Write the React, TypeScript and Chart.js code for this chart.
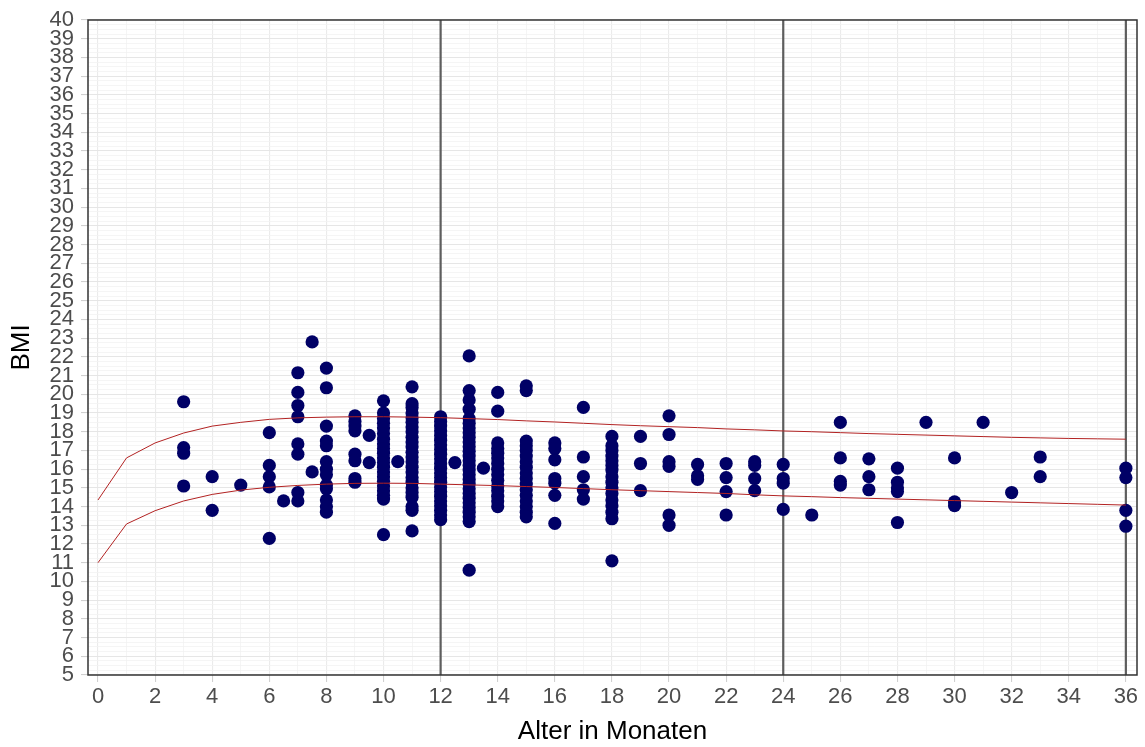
import React, { useEffect, useRef } from "react";
import { Chart, registerables } from "chart.js";

Chart.register(...registerables);

// Age (months) of each observed column of points
const ages: number[] = [3, 4, 5, 6, 6.5, 7, 7.5, 8, 9, 9.5, 10, 10.5, 11, 12, 12.5, 13, 13.5, 14, 15, 16, 17, 18, 19, 20, 21, 22, 23, 24, 25, 26, 27, 28, 29, 30, 31, 32, 33, 36];

// BMI values observed at each age (same order as ages)
const bmiAt3 = [19.6, 17.15, 16.85, 15.1];
const bmiAt4 = [15.6, 13.8];
const bmiAt5 = [15.15];
const bmiAt6 = [17.95, 16.2, 15.6, 15.05, 12.3];
const bmiAt6_5 = [14.3];
const bmiAt7 = [21.15, 20.1, 19.4, 18.8, 17.35, 16.8, 14.75, 14.3];
const bmiAt7_5 = [22.8, 15.85];
const bmiAt8 = [21.4, 20.35, 18.3, 17.5, 17.25, 16.4, 16.0, 15.7, 15.15, 14.95, 14.35, 14.0, 13.7];
const bmiAt9 = [18.85, 18.55, 18.3, 18.05, 16.8, 16.45, 15.5, 15.3];
const bmiAt9_5 = [17.8, 16.35];
const bmiAt10 = [19.65, 19.0, 18.7, 18.45, 18.2, 17.9, 17.6, 17.35, 17.1, 16.85, 16.6, 16.35, 16.1, 15.85, 15.6, 15.35, 15.1, 14.85, 14.6, 14.4, 12.5];
const bmiAt10_5 = [16.4];
const bmiAt11 = [20.4, 19.5, 19.3, 19.0, 18.75, 18.5, 18.25, 18.0, 17.7, 17.45, 17.2, 16.9, 16.65, 16.4, 16.1, 15.85, 15.55, 15.3, 15.0, 14.75, 14.5, 14.0, 13.8, 12.7];
const bmiAt12 = [18.8, 18.55, 18.3, 18.05, 17.8, 17.55, 17.3, 17.05, 16.8, 16.55, 16.3, 16.05, 15.8, 15.55, 15.3, 15.05, 14.8, 14.55, 14.3, 14.05, 13.8, 13.55, 13.3];
const bmiAt12_5 = [16.35];
const bmiAt13 = [22.05, 20.2, 19.7, 19.2, 18.7, 18.45, 18.2, 17.95, 17.7, 17.45, 17.2, 16.95, 16.7, 16.45, 16.2, 15.95, 15.7, 15.45, 15.2, 14.95, 14.7, 14.45, 14.2, 13.95, 13.7, 13.45, 13.2, 10.6];
const bmiAt13_5 = [16.05];
const bmiAt14 = [20.1, 19.1, 17.4, 17.1, 16.85, 16.6, 16.3, 16.0, 15.7, 15.4, 15.1, 14.85, 14.55, 14.3, 14.0];
const bmiAt15 = [20.45, 20.2, 17.5, 17.25, 17.0, 16.7, 16.4, 16.1, 15.8, 15.5, 15.2, 14.9, 14.6, 14.3, 14.0, 13.7, 13.45];
const bmiAt16 = [17.4, 17.1, 16.5, 15.5, 15.25, 14.6, 13.1];
const bmiAt17 = [19.3, 16.65, 15.6, 14.9, 14.4];
const bmiAt18 = [17.75, 17.25, 17.0, 16.7, 16.45, 16.2, 15.95, 15.6, 15.3, 15.0, 14.7, 14.35, 14.05, 13.7, 13.35, 11.1];
const bmiAt19 = [17.75, 16.3, 14.85];
const bmiAt20 = [18.85, 17.85, 16.4, 16.15, 13.55, 13.0];
const bmiAt21 = [16.25, 15.65, 15.45];
const bmiAt22 = [16.3, 15.55, 14.8, 13.55];
const bmiAt23 = [16.4, 16.2, 15.5, 14.85];
const bmiAt24 = [16.25, 15.5, 15.25, 13.85];
const bmiAt25 = [13.55];
const bmiAt26 = [18.5, 16.6, 15.35, 15.15];
const bmiAt27 = [16.55, 15.6, 14.9];
const bmiAt28 = [16.05, 15.3, 15.0, 14.8, 13.15];
const bmiAt29 = [18.5];
const bmiAt30 = [16.6, 14.25, 14.05];
const bmiAt31 = [18.5];
const bmiAt32 = [14.75];
const bmiAt33 = [16.65, 15.6];
const bmiAt36 = [16.05, 15.55, 13.8, 12.95];

const bmiByAge: number[][] = [bmiAt3, bmiAt4, bmiAt5, bmiAt6, bmiAt6_5, bmiAt7, bmiAt7_5, bmiAt8, bmiAt9, bmiAt9_5, bmiAt10, bmiAt10_5, bmiAt11, bmiAt12, bmiAt12_5, bmiAt13, bmiAt13_5, bmiAt14, bmiAt15, bmiAt16, bmiAt17, bmiAt18, bmiAt19, bmiAt20, bmiAt21, bmiAt22, bmiAt23, bmiAt24, bmiAt25, bmiAt26, bmiAt27, bmiAt28, bmiAt29, bmiAt30, bmiAt31, bmiAt32, bmiAt33, bmiAt36];

// Reference curves (monthly, 0..36)
const curveMonths: number[] = [0, 1, 2, 3, 4, 5, 6, 7, 8, 9, 10, 11, 12, 13, 14, 15, 16, 17, 18, 19, 20, 21, 22, 23, 24, 25, 26, 27, 28, 29, 30, 31, 32, 33, 34, 35, 36];
const upperCurve: number[] = [14.35, 16.6, 17.4, 17.93, 18.3, 18.5, 18.66, 18.74, 18.78, 18.8, 18.8, 18.78, 18.75, 18.7, 18.65, 18.58, 18.52, 18.45, 18.38, 18.32, 18.27, 18.22, 18.15, 18.1, 18.04, 18.0, 17.95, 17.9, 17.86, 17.82, 17.78, 17.74, 17.7, 17.67, 17.64, 17.62, 17.6];
const lowerCurve: number[] = [11.0, 13.07, 13.78, 14.3, 14.65, 14.88, 15.03, 15.13, 15.2, 15.24, 15.25, 15.24, 15.2, 15.16, 15.12, 15.07, 15.02, 14.96, 14.9, 14.85, 14.8, 14.75, 14.7, 14.63, 14.57, 14.53, 14.48, 14.44, 14.4, 14.36, 14.32, 14.28, 14.24, 14.2, 14.16, 14.12, 14.08];

// Vertical marker lines (months)
const markerMonths: number[] = [12, 24, 36];

// Axis ranges
const xMin = -0.35;
const xMax = 36.39;
const yMin = 5;
const yMax = 40;

const FONT = "'Liberation Sans', Arial, sans-serif";

const panelBorder = {
  id: "panelBorder",
  afterDraw(chart: any) {
    const { ctx, chartArea } = chart;
    ctx.save();
    ctx.strokeStyle = "#333333";
    ctx.lineWidth = 1.5;
    ctx.strokeRect(chartArea.left, chartArea.top, chartArea.right - chartArea.left, chartArea.bottom - chartArea.top);
    ctx.restore();
  },
};

export default function App() {
  const ref = useRef<HTMLCanvasElement | null>(null);

  useEffect(() => {
    if (!ref.current) return;
    const points: { x: number; y: number }[] = [];
    ages.forEach((a, i) => bmiByAge[i].forEach((v) => points.push({ x: a, y: v })));

    const markerSets = markerMonths.map((m) => ({
      type: "line" as const,
      data: [{ x: m, y: yMin }, { x: m, y: yMax }],
      borderColor: "#5e5e5e",
      borderWidth: 2.2,
      pointRadius: 0,
      order: 3,
      clip: false as any,
    }));

    const chart = new Chart(ref.current, {
      type: "scatter",
      data: {
        datasets: [
          ...markerSets,
          {
            type: "scatter",
            data: points,
            backgroundColor: "#000066",
            borderWidth: 0,
            pointRadius: 6.6,
            order: 2,
            clip: false as any,
          },
          {
            type: "line",
            data: curveMonths.map((m, i) => ({ x: m, y: upperCurve[i] })),
            borderColor: "#b22222",
            borderWidth: 1,
            pointRadius: 0,
            tension: 0,
            order: 1,
          },
          {
            type: "line",
            data: curveMonths.map((m, i) => ({ x: m, y: lowerCurve[i] })),
            borderColor: "#b22222",
            borderWidth: 1,
            pointRadius: 0,
            tension: 0,
            order: 1,
          },
        ] as any,
      },
      options: {
        animation: false,
        responsive: false,
        events: [],
        layout: { padding: { top: 20, right: 8, left: 0, bottom: 0 } },
        plugins: { legend: { display: false }, tooltip: { enabled: false } },
        scales: {
          x: {
            type: "linear",
            min: xMin,
            max: xMax,
            afterFit: (s: any) => {
              s.height = 72;
            },
            border: { display: false },
            grid: {
              color: (c: any) => (Math.round(c.tick.value) % 2 === 0 ? "#ebebeb" : "#f3f3f3"),
              lineWidth: (c: any) => (Math.round(c.tick.value) % 2 === 0 ? 1.1 : 0.8),
              tickColor: (c: any) => (Math.round(c.tick.value) % 2 === 0 ? "#d0d0d0" : "rgba(0,0,0,0)"),
              tickLength: 7,
            },
            ticks: {
              stepSize: 1,
              includeBounds: false,
              autoSkip: false,
              maxRotation: 0,
              padding: 2,
              color: "#4d4d4d",
              font: { family: FONT, size: 22 },
              callback: (v: any) => (Math.round(v) % 2 === 0 ? String(Math.round(v)) : ""),
            },
            title: {
              display: true,
              text: "Alter in Monaten",
              color: "#000000",
              font: { family: FONT, size: 26 },
              padding: { top: 0, bottom: 0 },
            },
          },
          y: {
            type: "linear",
            min: yMin,
            max: yMax,
            afterFit: (s: any) => {
              s.width = 88;
            },
            border: { display: false },
            grid: {
              color: (c: any) => (Math.abs(c.tick.value - Math.round(c.tick.value)) < 1e-6 ? "#e6e6e6" : "#f2f2f2"),
              lineWidth: (c: any) => (Math.abs(c.tick.value - Math.round(c.tick.value)) < 1e-6 ? 1.1 : 0.8),
              tickColor: (c: any) => (Math.abs(c.tick.value - Math.round(c.tick.value)) < 1e-6 ? "#d0d0d0" : "rgba(0,0,0,0)"),
              tickLength: 7,
            },
            ticks: {
              stepSize: 0.25,
              autoSkip: false,
              padding: 7,
              color: "#4d4d4d",
              font: { family: FONT, size: 22, lineHeight: 1 },
              callback: (v: any) => (Math.abs(v - Math.round(v)) < 1e-6 ? String(Math.round(v)) : ""),
            },
            title: {
              display: true,
              text: "BMI",
              color: "#000000",
              font: { family: FONT, size: 26 },
              padding: { top: 6, bottom: 0 },
            },
          },
        },
      },
      plugins: [panelBorder],
    });
    return () => chart.destroy();
  }, []);

  return (
    <div style={{ position: "fixed", left: 0, top: 0, width: 1145, height: 747, background: "#ffffff" }}>
      <canvas ref={ref} width={1145} height={747} />
    </div>
  );
}
